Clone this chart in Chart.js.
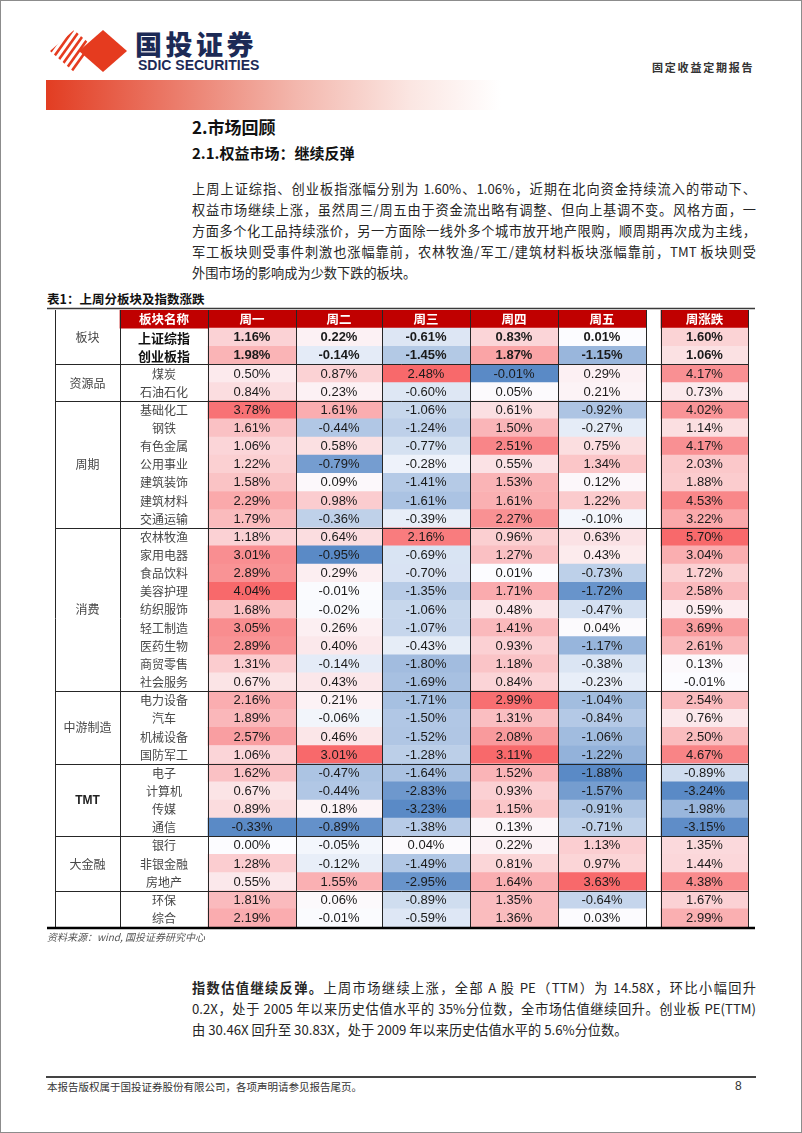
<!DOCTYPE html>
<html lang="zh-CN">
<head>
<meta charset="utf-8">
<title>上周分板块及指数涨跌</title>
<script src="https://cdn.jsdelivr.net/npm/chart.js@4.4.1/dist/chart.umd.min.js"></script>
<style>
  html, body { margin: 0; padding: 0; background: #fff; }
  body {
    width: 802px; height: 1133px; position: relative; overflow: hidden;
    font-family: "Noto Sans CJK SC", "Noto Sans", sans-serif; color: #222;
  }
  .frame { position: absolute; left: 0; top: 0; width: 800px; height: 1131px; border: 1px solid #8c8c8c; }
  .abs { position: absolute; white-space: nowrap; }
  .logo-cn { left: 135px; top: 28px; font-size: 27px; font-weight: 900; color: #1c2a56; letter-spacing: 3.5px; line-height: 32px; }
  .logo-en { left: 138px; top: 58px; font-family: "Liberation Sans Narrow", "Liberation Sans", sans-serif; font-size: 14px; font-weight: bold; color: #1c2a56; line-height: 15px; }
  .doc-type { left: 652px; top: 60px; font-size: 11px; font-weight: bold; letter-spacing: 1.8px; color: #333; line-height: 14px; }
  .band { position: absolute; left: 46px; top: 80px; width: 455px; height: 30px;
    background: linear-gradient(90deg, #e23d22 0%, #ea7462 25%, #f3b7ad 55%, #fbe6e2 80%, #ffffff 100%); }
  .h1 { left: 192px; top: 115px; font-size: 17px; font-weight: bold; color: #111; line-height: 24px; }
  .h2 { left: 192px; top: 142px; font-size: 15px; font-weight: bold; color: #111; line-height: 22px; }
  .para { position: absolute; left: 192px; width: 564px; font-size: 13.2px; line-height: 21px; color: #262626; }
  .para .ln { text-align: justify; text-align-last: justify; height: 21px; overflow: hidden; }
  .para .ln.last { text-align-last: left; }
  .tbl-title { left: 47px; top: 292px; font-size: 12.5px; font-weight: bold; color: #111; line-height: 14px; }
  .source { left: 47px; top: 930px; font-size: 10px; font-style: italic; color: #555; line-height: 13px; }
  #heatWrap { position: absolute; left: 45px; top: 300px; width: 718px; height: 636px; }
  .foot-line { position: absolute; left: 46px; top: 1076px; width: 710px; height: 2px; background: #444; }
  .foot { left: 47px; top: 1080px; font-size: 10.5px; color: #333; line-height: 14px; }
  .page-no { left: 735px; top: 1079px; font-family: "Liberation Sans", sans-serif; font-size: 12px; color: #333; line-height: 15px; }
</style>
</head>
<body>
<div class="frame"></div>

<svg class="abs" style="left:46px;top:30px" width="82" height="42" viewBox="0 0 82 42">
  <defs>
    <clipPath id="leftDiamond"><polygon points="28,0 52,21 28,42 4,21"/></clipPath>
  </defs>
  <g clip-path="url(#leftDiamond)" stroke="#e53b1f" stroke-width="2.6">
    <line x1="-24" y1="42" x2="6" y2="0"/>
    <line x1="-17" y1="42" x2="13" y2="0"/>
    <line x1="-10" y1="42" x2="20" y2="0"/>
    <line x1="-3" y1="42" x2="27" y2="0"/>
    <line x1="4" y1="42" x2="34" y2="0"/>
    <line x1="11" y1="42" x2="41" y2="0"/>
    <line x1="18" y1="42" x2="48" y2="0"/>
    <line x1="25" y1="42" x2="55" y2="0"/>
  </g>
  <polygon points="57,0 81,21 57,42 33,21" fill="#e53b1f"/>
</svg>
<div class="abs logo-cn">国投证券</div>
<div class="abs logo-en">SDIC SECURITIES</div>
<div class="abs doc-type">固定收益定期报告</div>
<div class="band"></div>

<div class="abs h1">2.市场回顾</div>
<div class="abs h2">2.1.权益市场：继续反弹</div>

<div class="para" style="top:178px">
  <div class="ln">上周上证综指、创业板指涨幅分别为 1.60%、1.06%，近期在北向资金持续流入的带动下、</div>
  <div class="ln">权益市场继续上涨，虽然周三/周五由于资金流出略有调整、但向上基调不变。风格方面，一</div>
  <div class="ln">方面多个化工品持续涨价，另一方面除一线外多个城市放开地产限购，顺周期再次成为主线，</div>
  <div class="ln">军工板块则受事件刺激也涨幅靠前，农林牧渔/军工/建筑材料板块涨幅靠前，TMT 板块则受</div>
  <div class="ln last">外围市场的影响成为少数下跌的板块。</div>
</div>

<div class="abs tbl-title">表1：上周分板块及指数涨跌</div>
<div id="heatWrap"><canvas id="heatChart" width="718" height="636"></canvas></div>
<div class="abs source">资料来源：wind, 国投证券研究中心</div>

<div class="para" style="top:977px">
  <div class="ln"><b>指数估值继续反弹。</b>上周市场继续上涨，全部 A 股 PE（TTM）为 14.58X，环比小幅回升</div>
  <div class="ln">0.2X，处于 2005 年以来历史估值水平的 35%分位数，全市场估值继续回升。创业板 PE(TTM)</div>
  <div class="ln last">由 30.46X 回升至 30.83X，处于 2009 年以来历史估值水平的 5.6%分位数。</div>
</div>

<div class="foot-line"></div>
<div class="abs foot">本报告版权属于国投证券股份有限公司，各项声明请参见报告尾页。</div>
<div class="abs page-no">8</div>

<script>
const groupNames = ['板块', '资源品', '周期', '消费', '中游制造', 'TMT', '大金融', ''];
const groupSizes = [2, 2, 7, 9, 4, 4, 3, 2];
const sectorNames = [
    '上证综指', '创业板指',
    '煤炭', '石油石化',
    '基础化工', '钢铁', '有色金属', '公用事业', '建筑装饰', '建筑材料', '交通运输',
    '农林牧渔', '家用电器', '食品饮料', '美容护理', '纺织服饰', '轻工制造', '医药生物', '商贸零售', '社会服务',
    '电力设备', '汽车', '机械设备', '国防军工',
    '电子', '计算机', '传媒', '通信',
    '银行', '非银金融', '房地产',
    '环保', '综合'
];
const nameHeader = '板块名称';
const dayLabels = ['周一', '周二', '周三', '周四', '周五', '周涨跌'];

// daily change, %
const mon = [1.16, 1.98, 0.50, 0.84, 3.78, 1.61, 1.06, 1.22, 1.58, 2.29, 1.79, 1.18, 3.01, 2.89, 4.04, 1.68, 3.05, 2.89, 1.31, 0.67, 2.16, 1.89, 2.57, 1.06, 1.62, 0.67, 0.89, -0.33, 0.00, 1.28, 0.55, 1.81, 2.19];
const tue = [0.22, -0.14, 0.87, 0.23, 1.61, -0.44, 0.58, -0.79, 0.09, 0.98, -0.36, 0.64, -0.95, 0.29, -0.01, -0.02, 0.26, 0.40, -0.14, 0.43, 0.21, -0.06, 0.46, 3.01, -0.47, -0.44, 0.18, -0.89, -0.05, -0.12, 1.55, 0.06, -0.01];
const wed = [-0.61, -1.45, 2.48, -0.60, -1.06, -1.24, -0.77, -0.28, -1.41, -1.61, -0.39, 2.16, -0.69, -0.70, -1.35, -1.06, -1.07, -0.43, -1.80, -1.69, -1.71, -1.50, -1.52, -1.28, -1.64, -2.83, -3.23, -1.38, 0.04, -1.49, -2.95, -0.89, -0.59];
const thu = [0.83, 1.87, -0.01, 0.05, 0.61, 1.50, 2.51, 0.55, 1.53, 1.61, 2.27, 0.96, 1.27, 0.01, 1.71, 0.48, 1.41, 0.93, 1.18, 0.84, 2.99, 1.31, 2.08, 3.11, 1.52, 0.93, 1.15, 0.13, 0.22, 0.81, 1.64, 1.35, 1.36];
const fri = [0.01, -1.15, 0.29, 0.21, -0.92, -0.27, 0.75, 1.34, 0.12, 1.22, -0.10, 0.63, 0.43, -0.73, -1.72, -0.47, 0.04, -1.17, -0.38, -0.23, -1.04, -0.84, -1.06, -1.22, -1.88, -1.57, -0.91, -0.71, 1.13, 0.97, 3.63, -0.64, 0.03];
const weekChg = [1.60, 1.06, 4.17, 0.73, 4.02, 1.14, 4.17, 2.03, 1.88, 4.53, 3.22, 5.70, 3.04, 1.72, 2.58, 0.59, 3.69, 2.61, 0.13, -0.01, 2.54, 0.76, 2.50, 4.67, -0.89, -3.24, -1.98, -3.15, 1.35, 1.44, 4.38, 1.67, 2.99];
const seriesValues = [mon, tue, wed, thu, fri, weekChg];

// table layout: group | name | mon..fri | gap | week  (x units = px of table width)
const colEdges = [0, 65, 153, 241, 327, 415, 503, 591, 606, 693];
const dayCols = [2, 3, 4, 5, 6, 8];
const boldRows = 2;

const HEADER_RED = '#c00000';
const LINE = '#262626';

function heatColor(v, vals) {
    const max = Math.max(...vals), min = Math.min(...vals);
    const mid = [252, 252, 255], hi = [248, 105, 107], lo = [90, 138, 198];
    let t = 0, end = hi;
    if (v > 0) t = v / max;
    else if (v < 0) { t = v / min; end = lo; }
    const c = mid.map((m, i) => Math.round(m + (end[i] - m) * t));
    return `rgb(${c.join(',')})`;
}

const rowKeys = ['header', ...sectorNames];
const barBase = { grouped: false, barPercentage: 1, categoryPercentage: 1, borderWidth: 0, borderSkipped: false };

const datasets = [{
    ...barBase,
    label: nameHeader,
    data: rowKeys.map(() => [colEdges[1], colEdges[2]]),
    backgroundColor: rowKeys.map((_, r) => r === 0 ? HEADER_RED : 'rgba(255,255,255,0)')
}];
dayLabels.forEach((lab, i) => {
    const c = dayCols[i];
    datasets.push({
        ...barBase,
        label: lab,
        data: rowKeys.map(() => [colEdges[c], colEdges[c + 1]]),
        backgroundColor: rowKeys.map((_, r) => r === 0 ? HEADER_RED : heatColor(seriesValues[i][r - 1], seriesValues[i]))
    });
});

const tableText = {
    id: 'tableText',
    afterDatasetsDraw(chart) {
        const { ctx, scales: { x, y } } = chart;
        const band = y.getPixelForValue(1) - y.getPixelForValue(0);
        const rowTop = r => y.getPixelForValue(r) - band / 2;
        const snap = p => Math.round(p) + 0.5;
        const cjk = '"Noto Sans CJK SC", sans-serif';
        const latin = '"Liberation Sans", Arial, sans-serif';

        ctx.save();
        ctx.textAlign = 'center';
        ctx.textBaseline = 'middle';

        chart.data.datasets.forEach((ds, di) => {
            chart.getDatasetMeta(di).data.forEach((bar, r) => {
                const cx = (bar.x + bar.base) / 2;
                let txt;
                if (r === 0) {
                    ctx.font = `bold 12.5px ${cjk}`;
                    ctx.fillStyle = '#ffffff';
                    txt = ds.label;
                } else if (di === 0) {
                    const bold = r <= boldRows;
                    ctx.font = bold ? `bold 13px ${cjk}` : `12px ${cjk}`;
                    ctx.fillStyle = bold ? '#111' : '#474747';
                    txt = sectorNames[r - 1];
                } else {
                    const bold = r <= boldRows;
                    ctx.font = `${bold ? 'bold ' : ''}13px ${latin}`;
                    ctx.fillStyle = '#1a1a1a';
                    txt = seriesValues[di - 1][r - 1].toFixed(2) + '%';
                }
                ctx.fillText(txt, cx, bar.y + 0.5);
            });
        });

        // group labels + group separators
        const gx = (x.getPixelForValue(colEdges[0]) + x.getPixelForValue(colEdges[1])) / 2;
        const left = x.getPixelForValue(colEdges[0]);
        const right = x.getPixelForValue(colEdges[colEdges.length - 1]);
        let start = 0;
        ctx.strokeStyle = LINE;
        ctx.lineWidth = 1;
        groupNames.forEach((g, gi) => {
            const end = (gi === 0 ? 1 : start) + groupSizes[gi];
            const cy = (rowTop(start) + rowTop(end)) / 2;
            ctx.font = g === 'TMT' ? `bold 12px ${latin}` : `12px ${cjk}`;
            ctx.fillStyle = g === 'TMT' ? '#222' : '#474747';
            ctx.fillText(g, gx, cy + 0.5);
            if (gi < groupNames.length - 1) {
                const yy = snap(rowTop(end));
                ctx.beginPath();
                ctx.moveTo(left, yy);
                ctx.lineTo(right, yy);
                ctx.stroke();
            }
            start = end;
        });

        // column lines
        const top = rowTop(0), bottom = rowTop(rowKeys.length);
        colEdges.forEach(e => {
            const xx = snap(x.getPixelForValue(e) - 0.5);
            ctx.beginPath();
            ctx.moveTo(xx, top);
            ctx.lineTo(xx, bottom);
            ctx.stroke();
        });

        // top and bottom rules of the table
        ctx.strokeStyle = '#3a3a3a';
        ctx.lineWidth = 1.5;
        ctx.beginPath();
        ctx.moveTo(left - 8, top - 1.5);
        ctx.lineTo(right + 7, top - 1.5);
        ctx.stroke();
        ctx.strokeStyle = '#000';
        ctx.lineWidth = 2.5;
        ctx.beginPath();
        ctx.moveTo(left - 8, bottom + 1);
        ctx.lineTo(right + 7, bottom + 1);
        ctx.stroke();
        ctx.restore();
    }
};

new Chart(document.getElementById('heatChart').getContext('2d'), {
    type: 'bar',
    data: { labels: rowKeys, datasets },
    options: {
        indexAxis: 'y',
        responsive: false,
        animation: false,
        layout: { padding: { left: 10, top: 10, right: 15, bottom: 9 } },
        scales: {
            x: { type: 'linear', min: colEdges[0], max: colEdges[colEdges.length - 1], display: false },
            y: { type: 'category', display: false, offset: true }
        },
        plugins: { legend: { display: false }, tooltip: { enabled: false } }
    },
    plugins: [tableText]
});
</script>
</body>
</html>
